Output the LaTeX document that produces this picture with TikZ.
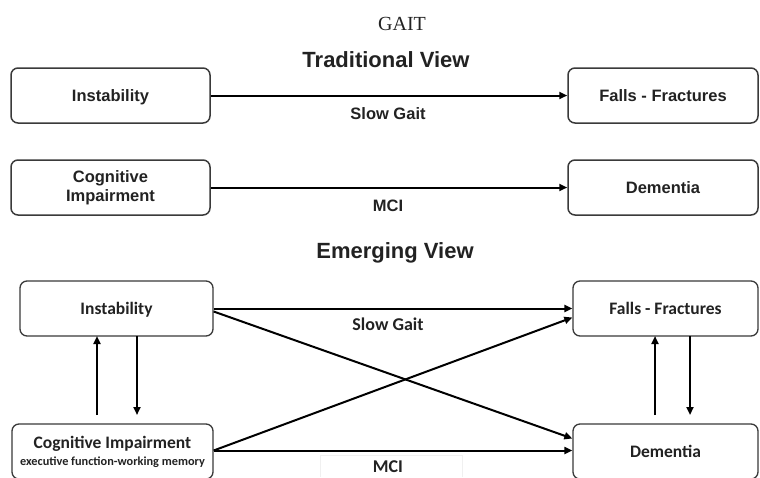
\documentclass[tikz,border=0pt]{standalone}
\usepackage{fontspec}
\setmainfont{Liberation Serif}
\newfontfamily\arialf{Liberation Sans}
\newfontfamily\calf{Carlito}
\usetikzlibrary{arrows.meta,calc}
\definecolor{ink}{HTML}{222222}
\definecolor{edge}{HTML}{3A3A3A}
\begin{document}
\begin{tikzpicture}[x=1pt,y=-1pt,
  tbox/.style={draw=edge,line width=1.5pt,rounded corners=7pt,minimum height=55pt,inner sep=2pt,align=center,text=ink,font=\arialf\bfseries\fontsize{16.5}{19}\selectfont},
  ebox/.style={draw=edge,line width=1.3pt,rounded corners=7pt,minimum height=55pt,inner sep=2pt,align=center,text=ink,font=\calf\bfseries\fontsize{17.5}{19}\selectfont},
  nodesc/.style={text depth=0pt},
  arr/.style={draw=black,line width=2pt,-{Triangle[length=8pt,width=7pt]}},
  tlab/.style={text=ink,font=\arialf\bfseries\fontsize{16.5}{19}\selectfont},
  elab/.style={text=ink,font=\calf\bfseries\fontsize{18}{20}\selectfont},
  head/.style={text=ink,font=\arialf\bfseries\fontsize{22}{24}\selectfont}]
\useasboundingbox (0,0) rectangle (760,477);
\fill[white] (0,0) rectangle (760,477);
% titles
\node[text=ink,font=\fontsize{20}{22}\selectfont] (gait) at (402,24) {GAIT};
\node[head] (trad) at (386,60) {Traditional View};
\node[head] (emer) at (395,253) {Emerging View};
% traditional view
\node[tbox,nodesc,minimum width=199pt] (ti) at (110.5,95.5) {Instability};
\node[tbox,nodesc,minimum width=190pt] (tf) at (663,95.5) {Falls - Fractures};
\node[tbox,minimum width=199pt] (tc) at (110.5,187.5) {Cognitive\\Impairment};
\node[tbox,nodesc,minimum width=190pt] (td) at (663,187.5) {Dementia};
\draw[arr] (ti.east) -- (tf.west);
\draw[arr] (tc.east) -- (td.west);
\node[tlab] (sg1) at (388,114) {Slow Gait};
\node[tlab] (mci1) at (388,206) {MCI};
% emerging view
\node[ebox,nodesc,minimum width=193pt] (bi) at (116.5,308.5) {Instability};
\node[ebox,nodesc,minimum width=185pt] (bf) at (665.5,308.5) {Falls - Fractures};
\node[ebox,minimum width=201pt] (bc) at (112.5,451.5) {Cognitive Impairment\\[-2pt]{\fontsize{12.3}{13}\selectfont executive function-working memory}};
\node[ebox,nodesc,minimum width=185pt] (bd) at (665.5,451.5) {Dementia};
\draw[draw=gray!12,line width=0.8pt] (320,477) -- (320,455) -- (462,455) -- (462,477);
\draw[arr] (bi.east) -- (bf.west);
\draw[arr] ([yshift=-3pt]bi.east) -- ([yshift=13pt]bd.west);
\draw[arr] ([yshift=1pt]bc.east) -- ([yshift=-9pt]bf.west);
\draw[arr] ([yshift=1pt]bc.east) -- ([yshift=1pt]bd.west);
\coordinate (l1a) at (97,415);
\coordinate (l1b) at (97,336);
\coordinate (l2a) at (137,336);
\coordinate (l2b) at (137,415);
\coordinate (r1a) at (655,415);
\coordinate (r1b) at (655,336);
\coordinate (r2a) at (690,336);
\coordinate (r2b) at (690,415);
\draw[arr] (l1a) -- (l1b);
\draw[arr] (l2a) -- (l2b);
\draw[arr] (r1a) -- (r1b);
\draw[arr] (r2a) -- (r2b);
\node[elab] (sg2) at (388,324) {Slow Gait};
\node[elab] (mci2) at (388,467) {MCI};
\end{tikzpicture}
\end{document}
